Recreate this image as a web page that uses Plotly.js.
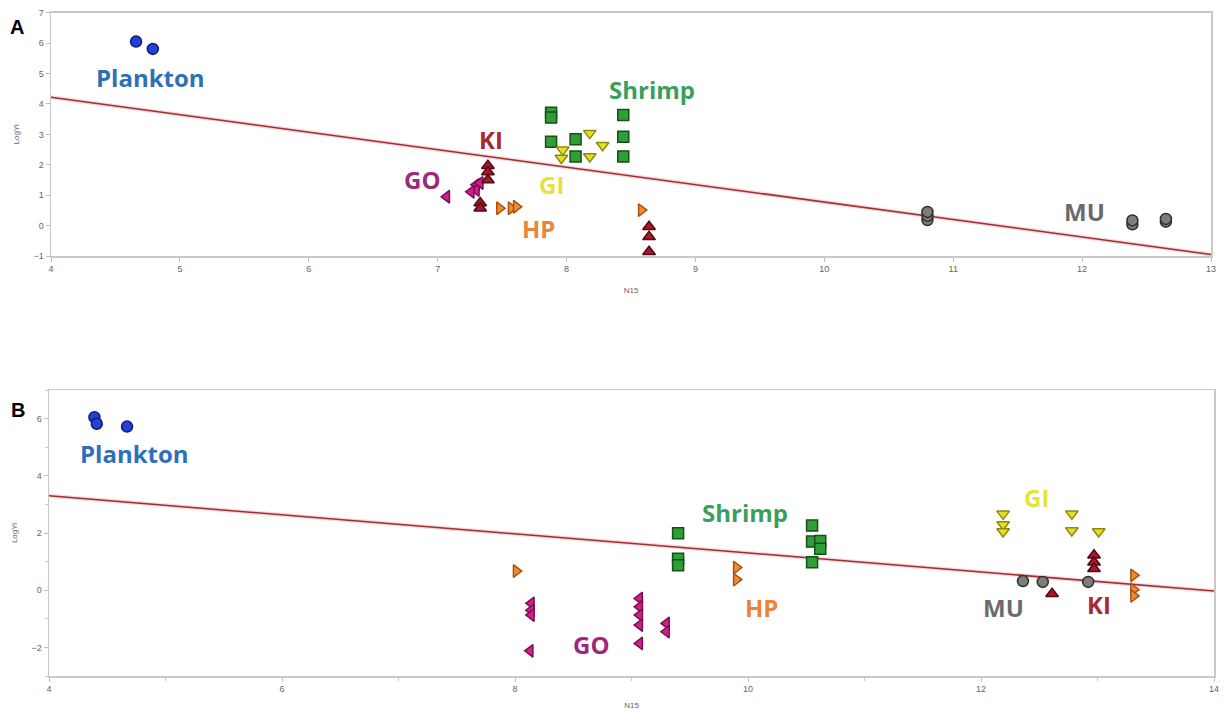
<!DOCTYPE html>
<html>
<head>
<meta charset="utf-8">
<script src="https://cdn.plot.ly/plotly-3.0.1.min.js"></script>
<style>
  html, body { margin: 0; padding: 0; background: #fff; }
  #chart { width: 1224px; height: 715px; }
</style>
</head>
<body>
<div id="chart"></div>
<script>
// ---- Panel A: N15 vs LogYi ----
const aPlanktonX = [4.66, 4.79];
const aPlanktonY = [6.05, 5.81];
const aShrimpX = [7.88, 7.88, 7.88, 8.07, 8.07, 8.44, 8.44, 8.44];
const aShrimpY = [3.71, 3.55, 2.76, 2.84, 2.27, 3.64, 2.92, 2.27];
const aGIX = [7.97, 7.96, 8.18, 8.18, 8.28];
const aGIY = [2.49, 2.22, 3.04, 2.27, 2.64];
const aKIX = [7.39, 7.39, 7.39, 7.33, 7.33, 8.64, 8.64, 8.64];
const aKIY = [1.97, 1.76, 1.50, 0.74, 0.57, -0.04, -0.37, -0.86];
const aGOX = [7.07, 7.30, 7.30, 7.26, 7.33];
const aGOY = [0.95, 1.34, 1.17, 1.11, 1.40];
const aHPX = [7.48, 7.57, 7.61, 8.58];
const aHPY = [0.57, 0.57, 0.62, 0.51];
const aMUX = [10.80, 10.80, 10.80, 12.39, 12.39, 12.65, 12.65];
const aMUY = [0.18, 0.32, 0.45, 0.04, 0.17, 0.13, 0.22];
const aFitX = [4, 13];
const aFitY = [4.22, -0.95];

// ---- Panel B: N15 vs LogYi ----
const bPlanktonX = [4.39, 4.41, 4.67];
const bPlanktonY = [6.05, 5.82, 5.72];
const bShrimpX = [9.40, 9.40, 9.40, 10.55, 10.55, 10.62, 10.62, 10.55];
const bShrimpY = [1.99, 1.10, 0.87, 2.26, 1.70, 1.72, 1.45, 0.98];
const bGIX = [12.19, 12.19, 12.19, 12.78, 12.78, 13.01];
const bGIY = [2.67, 2.30, 2.05, 2.67, 2.09, 2.05];
const bKIX = [12.97, 12.97, 12.97, 12.61];
const bKIY = [1.22, 0.98, 0.75, -0.12];
const bGOX = [8.14, 8.14, 8.14, 8.13, 9.07, 9.07, 9.07, 9.07, 9.07, 9.30, 9.30];
const bGOY = [-0.46, -0.70, -0.87, -2.12, -0.29, -0.58, -0.87, -1.22, -1.86, -1.16, -1.45];
const bHPX = [8.01, 9.90, 9.90, 13.31, 13.31, 13.31];
const bHPY = [0.67, 0.79, 0.37, 0.52, 0.02, -0.20];
const bMUX = [12.36, 12.53, 12.92];
const bMUY = [0.32, 0.29, 0.29];
const bFitX = [4, 14];
const bFitY = [3.30, -0.03];

// Group styles: symbol, fill, outline, label colour
const groups = {
  Plankton: { symbol: 'circle',         fill: '#2340d8', edge: '#0d1c7a', text: '#2f6fb8' },
  Shrimp:   { symbol: 'square',         fill: '#2f9e36', edge: '#155018', text: '#3a9f5c' },
  GI:       { symbol: 'triangle-down',  fill: '#e3e022', edge: '#8c8a14', text: '#e6e23a' },
  KI:       { symbol: 'triangle-up',    fill: '#a8182a', edge: '#520812', text: '#a82a2e' },
  GO:       { symbol: 'triangle-left',  fill: '#d0208c', edge: '#7a0e52', text: '#a0287a' },
  HP:       { symbol: 'triangle-right', fill: '#f28a30', edge: '#a65414', text: '#ec8436' },
  MU:       { symbol: 'circle',         fill: '#7d7d7d', edge: '#2e2e2e', text: '#6b6b6b' }
};

function pts(name, x, y, xa, ya) {
  const g = groups[name];
  return {
    type: 'scatter', mode: 'markers', name: name, x: x, y: y,
    xaxis: xa, yaxis: ya, showlegend: false,
    marker: { symbol: g.symbol, size: 11, color: g.fill,
              line: { color: g.edge, width: 1.5 } }
  };
}
function fit(x, y, xa, ya) {
  return [
    { type: 'scatter', mode: 'lines', x: x, y: y, xaxis: xa, yaxis: ya, showlegend: false,
      line: { color: 'rgba(240,140,150,0.35)', width: 4 }, hoverinfo: 'skip' },
    { type: 'scatter', mode: 'lines', x: x, y: y, xaxis: xa, yaxis: ya, showlegend: false,
      line: { color: '#9e2f36', width: 1.5 } }
  ];
}

const traces = [].concat(
  fit(aFitX, aFitY, 'x', 'y'),
  [pts('Plankton', aPlanktonX, aPlanktonY, 'x', 'y'),
   pts('Shrimp', aShrimpX, aShrimpY, 'x', 'y'),
   pts('GI', aGIX, aGIY, 'x', 'y'),
   pts('GO', aGOX, aGOY, 'x', 'y'),
   pts('KI', aKIX, aKIY, 'x', 'y'),
   pts('HP', aHPX, aHPY, 'x', 'y'),
   pts('MU', aMUX, aMUY, 'x', 'y')],
  fit(bFitX, bFitY, 'x2', 'y2'),
  [pts('Plankton', bPlanktonX, bPlanktonY, 'x2', 'y2'),
   pts('Shrimp', bShrimpX, bShrimpY, 'x2', 'y2'),
   pts('GI', bGIX, bGIY, 'x2', 'y2'),
   pts('GO', bGOX, bGOY, 'x2', 'y2'),
   pts('KI', bKIX, bKIY, 'x2', 'y2'),
   pts('HP', bHPX, bHPY, 'x2', 'y2'),
   pts('MU', bMUX, bMUY, 'x2', 'y2')]
);

// Group labels placed in data coordinates
const aLabels = [
  ['Plankton', 4.77, 4.88], ['Shrimp', 8.66, 4.46], ['KI', 7.41, 2.82],
  ['GO', 6.88, 1.50], ['GI', 7.88, 1.34], ['HP', 7.78, -0.08], ['MU', 12.02, 0.45]
];
const bLabels = [
  ['Plankton', 4.73, 4.77], ['Shrimp', 9.97, 2.71], ['GI', 12.48, 3.23],
  ['HP', 10.12, -0.59], ['GO', 8.65, -1.91], ['MU', 12.19, -0.59], ['KI', 13.01, -0.49]
];
function labelAnn(l, xr, yr) {
  return { x: l[1], y: l[2], xref: xr, yref: yr, text: l[0], showarrow: false,
           xanchor: 'center', yanchor: 'middle',
           font: { family: 'Open Sans', size: 24, color: groups[l[0]].text, weight: 'bold' } };
}
const annotations = aLabels.map(l => labelAnn(l, 'x', 'y'))
  .concat(bLabels.map(l => labelAnn(l, 'x2', 'y2')))
  .concat([
    { x: 17 / 1224, y: 1 - 27 / 715, xref: 'paper', yref: 'paper', text: '<b>A</b>', showarrow: false,
      xanchor: 'center', yanchor: 'middle', font: { family: 'Liberation Sans', size: 20, color: '#000' } },
    { x: 18 / 1224, y: 1 - 410 / 715, xref: 'paper', yref: 'paper', text: '<b>B</b>', showarrow: false,
      xanchor: 'center', yanchor: 'middle', font: { family: 'Liberation Sans', size: 20, color: '#000' } }
  ]);

const axBase = {
  showline: true, mirror: true, linecolor: '#c9c9c9', linewidth: 1.5,
  ticks: 'outside', ticklen: 4, tickcolor: '#c0c0c0',
  showgrid: false, zeroline: false,
  tickfont: { family: 'Liberation Sans', size: 9, color: '#666' }
};
const titleFont = { family: 'Liberation Sans', size: 8, color: '#666' };

const layout = {
  width: 1224, height: 715,
  margin: { l: 0, r: 0, t: 0, b: 0 },
  paper_bgcolor: '#fff', plot_bgcolor: '#fff',
  showlegend: false,
  xaxis: Object.assign({}, axBase, {
    domain: [51 / 1224, 1211 / 1224], range: [4, 13], dtick: 1, anchor: 'y',
    title: { text: 'N15', font: titleFont, standoff: 14 }
  }),
  yaxis: Object.assign({}, axBase, {
    domain: [1 - 256 / 715, 1 - 12.7 / 715], range: [-1, 7], dtick: 1, anchor: 'x',
    title: { text: 'LogYi', font: titleFont, standoff: 12 }
  }),
  xaxis2: Object.assign({}, axBase, {
    domain: [49 / 1224, 1214 / 1224], range: [4, 14], dtick: 2, anchor: 'y2',
    minor: { dtick: 1, ticklen: 3, tickcolor: '#c8c8c8', ticks: 'outside' },
    title: { text: 'N15', font: titleFont, standoff: 9 }
  }),
  yaxis2: Object.assign({}, axBase, {
    domain: [1 - 676 / 715, 1 - 390 / 715], range: [-3, 7], tick0: 0, dtick: 2, anchor: 'x2',
    minor: { dtick: 1, ticklen: 3, tickcolor: '#c8c8c8', ticks: 'outside' },
    title: { text: 'LogYi', font: titleFont, standoff: 12 }
  }),
  annotations: annotations
};

Plotly.newPlot('chart', traces, layout, { displayModeBar: false, staticPlot: true });
</script>
</body>
</html>
